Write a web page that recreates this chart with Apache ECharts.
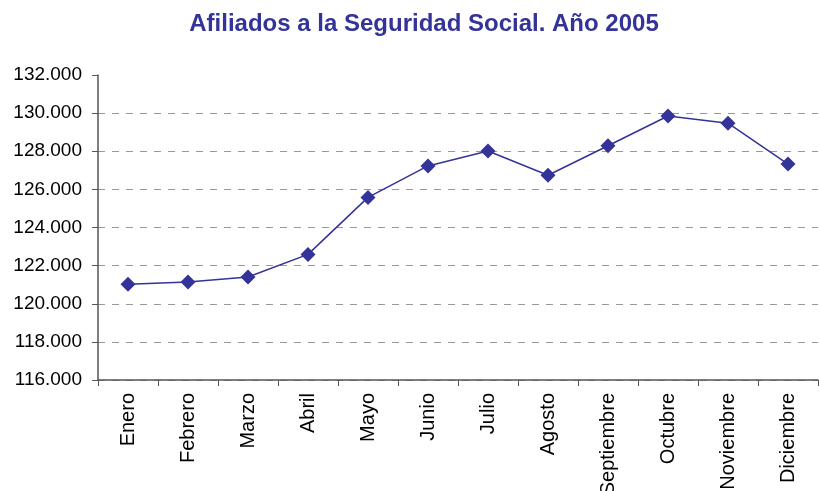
<!DOCTYPE html>
<html>
<head>
<meta charset="UTF-8" />
<title>Afiliados a la Seguridad Social. Año 2005</title>
<style>
  html, body { margin: 0; padding: 0; background: #fff; }
  #chart { width: 819px; height: 491px; }
</style>
</head>
<body>
<div id="chart"></div>
<script src="https://cdn.jsdelivr.net/npm/echarts@6/dist/echarts.min.js"></script>
<script>
// datos
const meses = ["Enero", "Febrero", "Marzo", "Abril", "Mayo", "Junio", "Julio",
  "Agosto", "Septiembre", "Octubre", "Noviembre", "Diciembre"];
const afiliados = [121020, 121140, 121400, 122590, 125580, 127230, 128010,
  126740, 128290, 129850, 129470, 127330];
const ejeMin = 116000;
const ejeMax = 132000;
const ejeIntervalo = 2000;

const azul = "#333399";
const fuente = "Liberation Sans, Arial, sans-serif";

function miles(v) {
  return String(v).replace(/\B(?=(\d{3})+(?!\d))/g, ".");
}

const chart = echarts.init(document.getElementById("chart"));
chart.setOption({
  animation: false,
  title: {
    text: "Afiliados a la Seguridad Social. Año 2005",
    left: 419,
    textAlign: "center",
    top: 7,
    textStyle: {
      color: azul,
      fontFamily: fuente,
      fontWeight: "bold",
      fontSize: 24
    }
  },
  grid: { left: 98, right: 1, top: 75, bottom: 111, outerBoundsMode: "none" },
  xAxis: {
    type: "category",
    data: meses,
    boundaryGap: true,
    axisLine: { lineStyle: { color: "#555", width: 1.5 } },
    axisTick: { show: true, length: 6, lineStyle: { color: "#555" } },
    axisLabel: {
      rotate: 90,
      interval: 0,
      margin: 13,
      color: "#000",
      fontFamily: fuente,
      fontSize: 20
    }
  },
  yAxis: {
    type: "value",
    min: ejeMin,
    max: ejeMax,
    interval: ejeIntervalo,
    axisLine: { show: true, lineStyle: { color: "#555", width: 1.5 } },
    axisTick: { show: true, length: 6, lineStyle: { color: "#555" } },
    axisLabel: {
      formatter: miles,
      margin: 16,
      color: "#000",
      fontFamily: fuente,
      fontSize: 19
    },
    splitLine: {
      show: true,
      showMaxLine: false,
      lineStyle: { color: "#999", type: [7, 7], width: 1 }
    }
  },
  series: [{
    type: "line",
    data: afiliados,
    symbol: "diamond",
    symbolSize: 15,
    lineStyle: { color: azul, width: 1.5 },
    itemStyle: { color: azul }
  }]
});
</script>
</body>
</html>
